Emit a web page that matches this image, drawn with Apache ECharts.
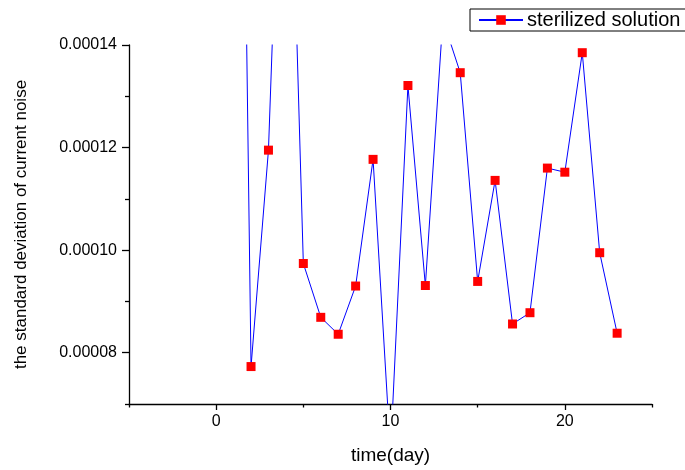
<!DOCTYPE html>
<html>
<head>
<meta charset="utf-8">
<script src="https://cdn.jsdelivr.net/npm/echarts@6/dist/echarts.min.js"></script>
<style>
  html, body { margin: 0; padding: 0; background: #fff; }
  #chart { width: 685px; height: 470px; }
</style>
</head>
<body>
<div id="chart"></div>
<script>
// Measurement days and standard deviation of the current noise
const days = [1, 2, 3, 4, 5, 6, 7, 8, 9, 10, 11, 12, 13, 14, 15, 16, 17, 18, 19, 20, 21, 22, 23];
const noiseStd = [0.00033, 0.0000773, 0.0001195, 0.000215, 0.0000974, 0.0000869, 0.0000836,
  0.0000930, 0.0001177, 0.0000605, 0.0001321, 0.0000931, 0.000145, 0.0001346, 0.0000939,
  0.0001136, 0.0000856, 0.0000878, 0.0001160, 0.0001152, 0.0001385, 0.0000995, 0.0000838];

// Axis ranges and tick positions
const xRange = [-5, 25];
const xMajorTicks = [0, 10, 20];
const xMinorTicks = [-5, 5, 15, 25];
const yRange = [0.00007, 0.00014];
const yMajorTicks = [0.00008, 0.0001, 0.00012, 0.00014];
const yMinorTicks = [0.00007, 0.00009, 0.00011, 0.00013];

const seriesName = 'sterilized solution';
const xName = 'time(day)';
const yName = 'the standard deviation of current noise';

const FONT = '"Liberation Sans", Arial, sans-serif';
const AXIS_COLOR = '#000';

const chart = echarts.init(document.getElementById('chart'), null, { renderer: 'canvas' });

chart.setOption({
  animation: false,
  backgroundColor: '#fff',
  textStyle: { fontFamily: FONT, color: '#000' },
  grid: { left: 129, right: 33, top: 45, bottom: 64, containLabel: false },
  legend: {
    left: 470,
    top: 9,
    padding: [1, 12, 1, 8],
    borderColor: '#000',
    borderWidth: 1,
    itemWidth: 44,
    itemHeight: 12,
    itemGap: 0,
    textStyle: { fontFamily: FONT, fontSize: 20, color: '#000', padding: [0, 0, 0, -1] },
    data: [seriesName]
  },
  xAxis: [
    {
      type: 'value',
      min: xRange[0],
      max: xRange[1],
      name: xName,
      nameLocation: 'middle',
      nameGap: 42,
      nameTextStyle: { fontFamily: FONT, fontSize: 19, color: '#000' },
      axisLine: { show: true, onZero: false, lineStyle: { color: AXIS_COLOR, width: 1.3 } },
      axisTick: { show: true, length: 6, customValues: xMajorTicks, lineStyle: { color: AXIS_COLOR, width: 1.3 } },
      axisLabel: { show: true, customValues: xMajorTicks, margin: 10, fontFamily: FONT, fontSize: 16, color: '#000' },
      splitLine: { show: false }
    },
    {
      type: 'value',
      position: 'bottom',
      min: xRange[0],
      max: xRange[1],
      axisLine: { show: false, onZero: false },
      axisTick: { show: true, length: 3.5, customValues: xMinorTicks, lineStyle: { color: AXIS_COLOR, width: 1.3 } },
      axisLabel: { show: false },
      splitLine: { show: false }
    }
  ],
  yAxis: [
    {
      type: 'value',
      min: yRange[0],
      max: yRange[1],
      name: yName,
      nameLocation: 'middle',
      nameGap: 99,
      nameTextStyle: { fontFamily: FONT, fontSize: 17, color: '#000' },
      axisLine: { show: true, onZero: false, lineStyle: { color: AXIS_COLOR, width: 1.3 } },
      axisTick: { show: true, length: 7, customValues: yMajorTicks, lineStyle: { color: AXIS_COLOR, width: 1.3 } },
      axisLabel: {
        show: true,
        customValues: yMajorTicks,
        margin: 12,
        fontFamily: FONT,
        fontSize: 16,
        color: '#000',
        formatter: v => Number(v).toFixed(5)
      },
      splitLine: { show: false }
    },
    {
      type: 'value',
      position: 'left',
      min: yRange[0],
      max: yRange[1],
      axisLine: { show: false, onZero: false },
      axisTick: { show: true, length: 4, customValues: yMinorTicks, lineStyle: { color: AXIS_COLOR, width: 1.3 } },
      axisLabel: { show: false },
      splitLine: { show: false }
    }
  ],
  series: [
    {
      name: seriesName,
      type: 'line',
      xAxisIndex: 0,
      yAxisIndex: 0,
      data: days.map((d, i) => [d, noiseStd[i]]),
      clip: true,
      symbol: 'rect',
      symbolSize: 9,
      showAllSymbol: true,
      itemStyle: { color: '#ff0000', borderWidth: 0 },
      lineStyle: { color: '#0000ff', width: 1 },
      emphasis: { disabled: true }
    }
  ]
});
</script>
</body>
</html>
